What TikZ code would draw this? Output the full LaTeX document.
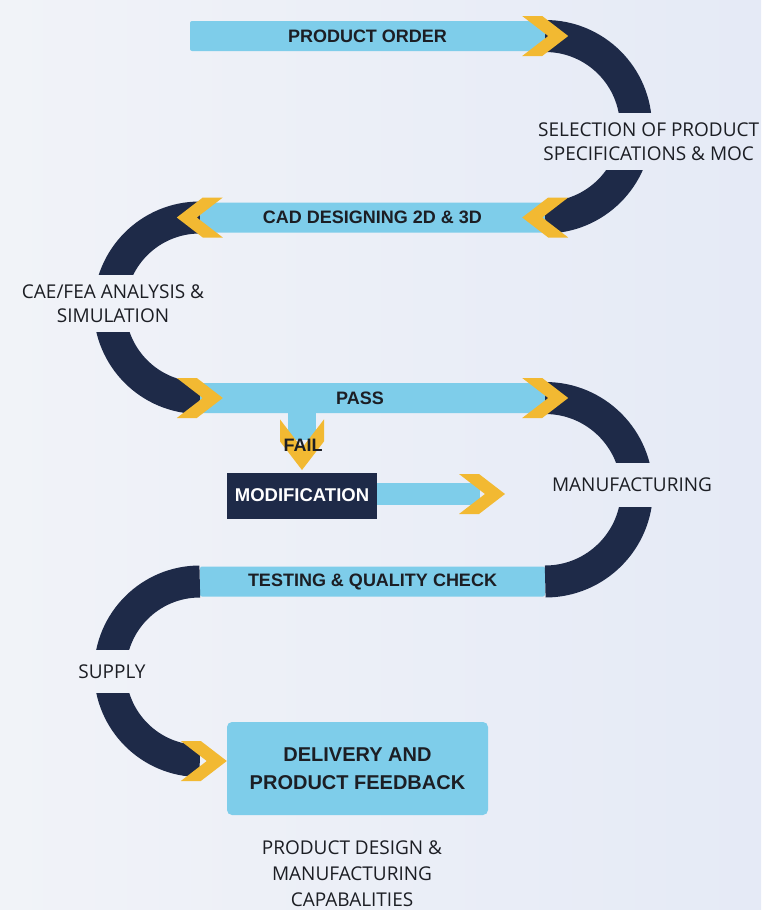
\documentclass[tikz,border=0pt]{standalone}
\usepackage{fontspec}
\setmainfont{Open Sans}
\newfontfamily\barfont{Liberation Sans}
\definecolor{skyblue}{RGB}{126,205,234}
\definecolor{navy}{RGB}{30,42,72}
\definecolor{gold}{RGB}{242,185,50}
\definecolor{ink}{RGB}{28,30,36}
\definecolor{bgleft}{RGB}{241,243,248}
\definecolor{bgright}{RGB}{229,234,246}
\begin{document}
\begin{tikzpicture}[x=1pt,y=-1pt,
    bar/.style={fill=skyblue, rounded corners=2pt, minimum height=30pt, inner sep=0pt,
      text=ink, font=\barfont\bfseries\fontsize{18}{20}\selectfont},
    track/.style={draw=navy, line width=32pt},
    lbl/.style={text=ink, align=center, inner sep=0pt, font=\fontsize{19}{24}\selectfont},
    chevron/.pic={\fill[gold] (-46,-20) -- (-26,-20) -- (0,0) -- (-26,20) -- (-46,20) -- (-20,0) -- cycle;}]
    \shade[left color=bgleft, right color=bgright] (0,0) rectangle (761,910);
    \useasboundingbox (0,0) rectangle (761,910);
    % the bars
    \node[bar, minimum width=355pt] (order) at (367.5,36) {PRODUCT ORDER};
    \node[bar, minimum width=345pt] (cad) at (372.5,217.5) {CAD DESIGNING 2D \& 3D};
    \node[bar, minimum width=345pt] (pass) at (372.5,398) {};
    \node[bar, minimum width=345pt] (test) at (372.5,581.5) {TESTING \& QUALITY CHECK};
    \node[bar, minimum width=261pt, minimum height=93pt, rounded corners=5pt, align=center,
      font=\barfont\bfseries\fontsize{20}{28}\selectfont] (deliv) at (357.5,768.5) {DELIVERY AND\\PRODUCT FEEDBACK};
    \coordinate (arrive) at (200,761);
    % step labels
    \node[lbl, anchor=west, minimum height=57pt] (spec) at (538,141.5) {SELECTION OF PRODUCT\\SPECIFICATIONS \& MOC};
    \node[lbl, minimum height=57pt] (cae) at (113,303.5) {CAE/FEA ANALYSIS \&\\SIMULATION};
    \node[lbl, minimum height=44pt] (manuf) at (632,485) {MANUFACTURING};
    \node[lbl, minimum height=43pt] (supply) at (112,671.5) {SUPPLY};
    \node[lbl, font=\fontsize{19}{26}\selectfont] (caps) at (352,874) {PRODUCT DESIGN \&\\MANUFACTURING\\CAPABALITIES};
    % the bends, with a gap left for each label
    \begin{scope}[even odd rule]
      \clip (0,0) rectangle (761,910)
        (spec.north west) rectangle (spec.south east) (cae.north west) rectangle (cae.south east)
        (manuf.north west) rectangle (manuf.south east) (supply.north west) rectangle (supply.south east);
      \draw[track] (order.east) arc[start angle=-90, end angle=90, radius=90.75];
      \draw[track] (cad.west) arc[start angle=-90, end angle=-270, radius=90.25];
      \draw[track] (pass.east) arc[start angle=-90, end angle=90, radius=91.75];
      \draw[track] (test.west) arc[start angle=-90, end angle=-270, radius=89.75];
    \end{scope}
    % arrow heads
    \pic at ([xshift=23pt]order.east) {chevron};
    \pic[rotate=180] at ([xshift=-23pt]cad.east) {chevron};
    \pic[rotate=180] at ([xshift=-23pt]cad.west) {chevron};
    \pic at ([xshift=23pt]pass.west) {chevron};
    \pic at ([xshift=23pt]pass.east) {chevron};
    \pic at (deliv.west |- arrive) {chevron};
    \node[bar, fill=none] (passtxt) at (360,398) {PASS};
    % fail branch
    \coordinate (failtip) at (302,470);
    \draw[skyblue, line width=28pt] (pass.south -| failtip) -- ([yshift=30pt]failtip);
    \pic[rotate=-90, scale=1.1] at (failtip) {chevron};
    \node[bar, fill=none] (fail) at (303,445) {FAIL};
    \node[bar, fill=navy, rounded corners=0pt, minimum width=150pt, minimum height=46pt, text=white,
      font=\barfont\bfseries\fontsize{18.5}{20}\selectfont] (mod) at (302,495.5) {MODIFICATION};
    \coordinate (modtip) at (505,494);
    \draw[skyblue, line width=22pt] (mod.east |- modtip) -- ([xshift=-25pt]modtip);
    \pic at (modtip) {chevron};
\end{tikzpicture}
\end{document}
